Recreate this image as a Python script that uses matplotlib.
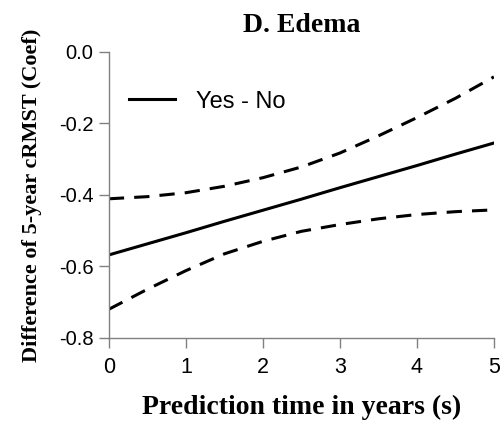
import matplotlib
matplotlib.use("Agg")
import matplotlib.pyplot as plt

# ── Data ─────────────────────────────────────────────────────────────────────
YEARS = [0, 0.5, 1, 1.5, 2, 2.5, 3, 3.5, 4, 4.5, 5]
DIFF = [-0.568, -0.537, -0.506, -0.474, -0.443, -0.412, -0.380, -0.349, -0.318, -0.286, -0.255]
UPPER = [-0.411, -0.405, -0.394, -0.376, -0.352, -0.322, -0.283, -0.235, -0.184, -0.130, -0.070]
LOWER = [-0.720, -0.664, -0.612, -0.565, -0.530, -0.502, -0.483, -0.467, -0.455, -0.447, -0.442]

XTICKS = [0, 1, 2, 3, 4, 5]
YTICKS = [-0.8, -0.6, -0.4, -0.2, 0.0]

SERIF = "Liberation Serif"
SANS = "Liberation Sans"
AXIS_GREY = "#808080"


def main():
    fig = plt.figure(figsize=(5.04, 4.25), dpi=100)
    ax = fig.add_axes([0.216, 0.205, 0.764, 0.673])

    ax.plot(YEARS, DIFF, color="black", lw=2.2, label="Yes - No")
    ax.plot(YEARS, UPPER, color="black", lw=2.2, dashes=(5, 3.3))
    ax.plot(YEARS, LOWER, color="black", lw=2.2, dashes=(5, 3.3))

    ax.set_xlim(0, 5)
    ax.set_ylim(-0.8, 0.0)
    ax.set_xticks(XTICKS)
    ax.set_yticks(YTICKS)
    ax.set_xticklabels([str(t) for t in XTICKS], fontfamily=SANS, fontsize=15.5)
    ax.set_yticklabels([f"{t:.1f}" for t in YTICKS], fontfamily=SANS, fontsize=14.5)

    for side in ("top", "right"):
        ax.spines[side].set_visible(False)
    for side in ("left", "bottom"):
        ax.spines[side].set_color(AXIS_GREY)
        ax.spines[side].set_linewidth(1.0)
    ax.tick_params(direction="out", length=7, width=1.0, color=AXIS_GREY,
                   labelcolor="black")
    ax.tick_params(axis="x", pad=7)
    ax.tick_params(axis="y", pad=4)

    ax.set_title("D. Edema", fontfamily=SERIF, fontweight="bold", fontsize=20, pad=14)
    ax.set_xlabel("Prediction time in years (s)", fontfamily=SERIF,
                  fontweight="bold", fontsize=20, labelpad=12)
    ax.set_ylabel("Difference of 5-year cRMST (Coef)", fontfamily=SERIF,
                  fontweight="bold", fontsize=16, labelpad=12)

    ax.legend(loc="center left", bbox_to_anchor=(0.052, 0.826), frameon=False,
              borderpad=0, borderaxespad=0, handlelength=1.95, handletextpad=0.9,
              prop={"family": SANS, "size": 17})

    plt.savefig("out.png", dpi=100)
    plt.close()


if __name__ == "__main__":
    main()
